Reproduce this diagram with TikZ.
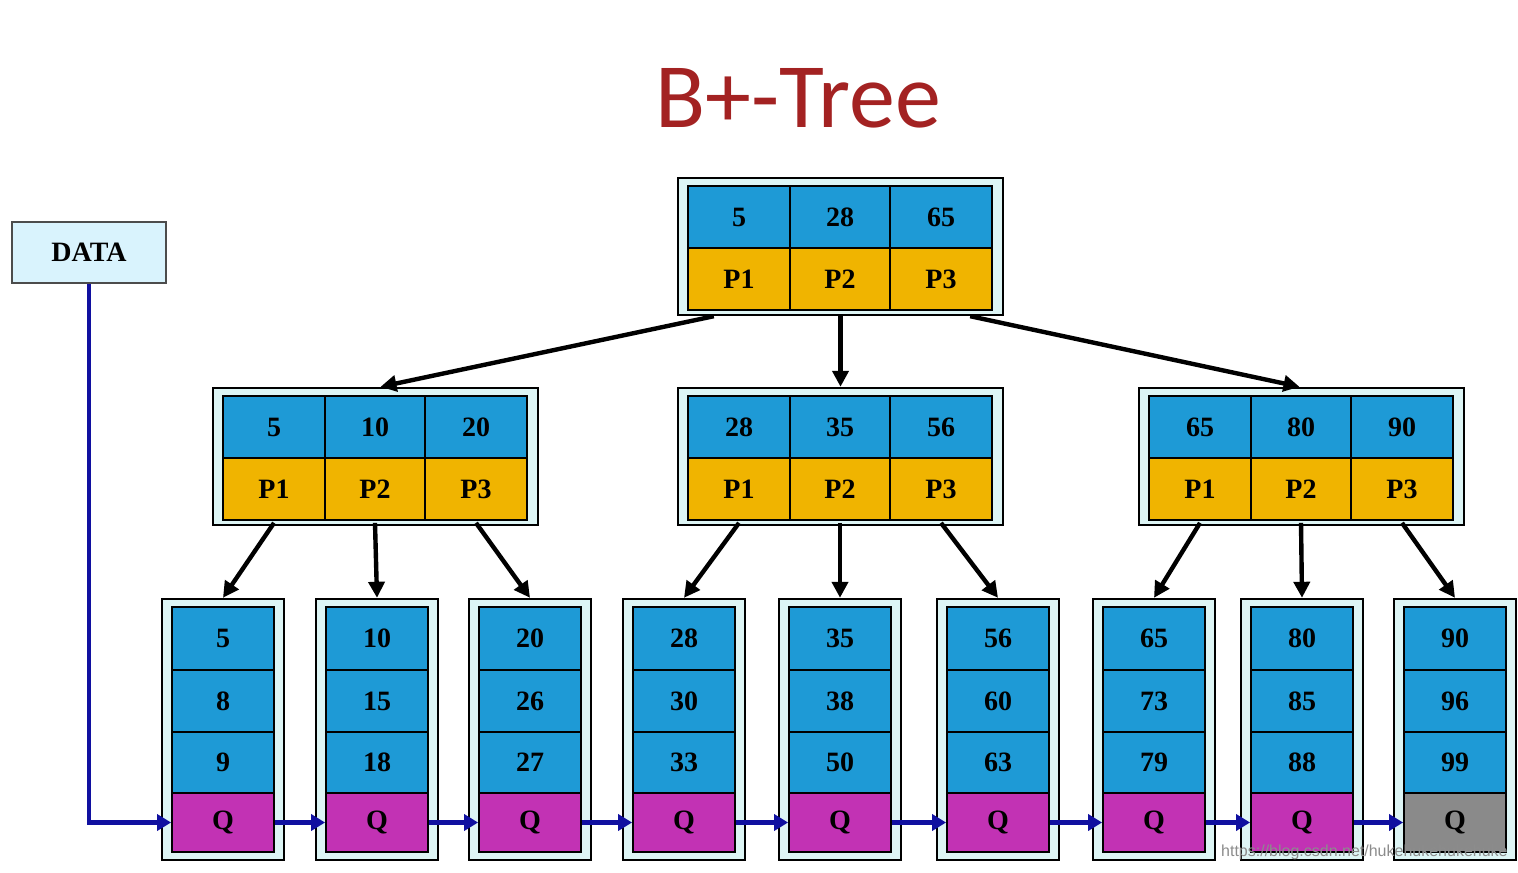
\documentclass[tikz,border=0pt]{standalone}
\usepackage{fontspec}
\newfontfamily\titlefont{Carlito}
\newfontfamily\wmfont{Liberation Sans}
\newfontfamily\cellfont{Liberation Serif}
\usetikzlibrary{arrows.meta,calc}
\definecolor{cblue}{HTML}{1E9AD6}
\definecolor{cyel}{HTML}{F0B400}
\definecolor{cmag}{HTML}{C232B4}
\definecolor{cgray}{HTML}{8A8A8A}
\definecolor{cout}{HTML}{DDF5F5}
\definecolor{ttl}{HTML}{A32222}
\definecolor{dblue}{HTML}{1010A0}
\begin{document}
\begin{tikzpicture}[x=0.5pt,y=-0.5pt,
 outer/.style={draw=black,fill=cout,line width=1.2pt},
 cell/.style={draw=black,line width=0.9pt,font=\cellfont\fontsize{14}{14}\bfseries\selectfont},
 tarr/.style={line width=2.2pt,-{Triangle[length=8pt,width=8pt]}},
 larr/.style={draw=dblue,line width=2.4pt,-{Triangle[length=7pt,width=8pt]}}]
\useasboundingbox (0,0) rectangle (1518,872);
\fill[white] (0,0) rectangle (1518,872);
\node[font=\titlefont\fontsize{46}{46}\selectfont,text=ttl] (title) at (798,98) {B+-Tree};
% DATA
\node[outer,draw=black!70,fill=cyan!15,minimum width=77pt,minimum height=30.5pt,font=\cellfont\fontsize{14}{14}\bfseries\selectfont] (data) at (89,252.5) {DATA};
\newcommand{\inn}[6]{%
 \node[outer,minimum width=162.5pt,minimum height=68.5pt] (#1) at (#2+162.5,#3+68.5) {};
 \foreach \i/\k/\w/\c in {1/#4/51/61,2/#5/50/162,3/#6/51/263}{
  \node[cell,fill=cblue,minimum width=\w pt,minimum height=31pt] (#1k\i) at (#2+\c,#3+39) {\k};
  \node[cell,fill=cyel,minimum width=\w pt,minimum height=31pt] (#1p\i) at (#2+\c,#3+101) {P\i};
 }
}
\inn{root}{678}{178}{5}{28}{65}
\inn{ma}{213}{388}{5}{10}{20}
\inn{mb}{678}{388}{28}{35}{56}
\inn{mc}{1139}{388}{65}{80}{90}
% leaves
\newcommand{\leaf}[6]{%
 \node[outer,minimum width=61pt,minimum height=130.5pt] (#1) at (#2+61,729.5) {};
 \node[cell,fill=cblue,minimum width=51pt,minimum height=31.5pt] (#1a) at (#2+61,638.5) {#3};
 \node[cell,fill=cblue,minimum width=51pt,minimum height=31pt] (#1b) at (#2+61,701) {#4};
 \node[cell,fill=cblue,minimum width=51pt,minimum height=30.5pt] (#1c) at (#2+61,762.5) {#5};
 \node[cell,fill=#6,minimum width=51pt,minimum height=29.5pt] (#1q) at (#2+61,822.5) {Q};
}
\leaf{l1}{162}{5}{8}{9}{cmag}
\leaf{l2}{316}{10}{15}{18}{cmag}
\leaf{l3}{469}{20}{26}{27}{cmag}
\leaf{l4}{623}{28}{30}{33}{cmag}
\leaf{l5}{779}{35}{38}{50}{cmag}
\leaf{l6}{937}{56}{60}{63}{cmag}
\leaf{l7}{1093}{65}{73}{79}{cmag}
\leaf{l8}{1241}{80}{85}{88}{cmag}
\leaf{l9}{1394}{90}{96}{99}{cgray}
% tree arrows
\draw[tarr] ($(root.south west)+(37,0)$) -- ($(ma.north)+(5,0)$);
\draw[tarr] (root.south) -- (mb.north);
\draw[tarr] ($(root.south east)+(-34,0)$) -- ($(mc.north)+(-2,0)$);
\foreach \m/\a/\b/\c in {ma/l1/l2/l3,mb/l4/l5/l6,mc/l7/l8/l9}{
 \draw[tarr] ($(\m p1.south)+(0,2)$) -- (\a.north);
 \draw[tarr] ($(\m p2.south)+(0,2)$) -- (\b.north);
 \draw[tarr] ($(\m p3.south)+(0,2)$) -- (\c.north);
}
% linked list
\draw[larr] (data.south) |- (l1q.west);
\foreach \a/\b in {l1/l2,l2/l3,l3/l4,l4/l5,l5/l6,l6/l7,l7/l8,l8/l9}
 \draw[larr] (\a q.east) -- (\b q.west);
\node[anchor=south east,font=\wmfont\fontsize{8}{8}\selectfont,text=black!45,inner sep=1pt] (wm) at (1510,862) {https://blog.csdn.net/hukehukehukehuke};
\end{tikzpicture}
\end{document}
